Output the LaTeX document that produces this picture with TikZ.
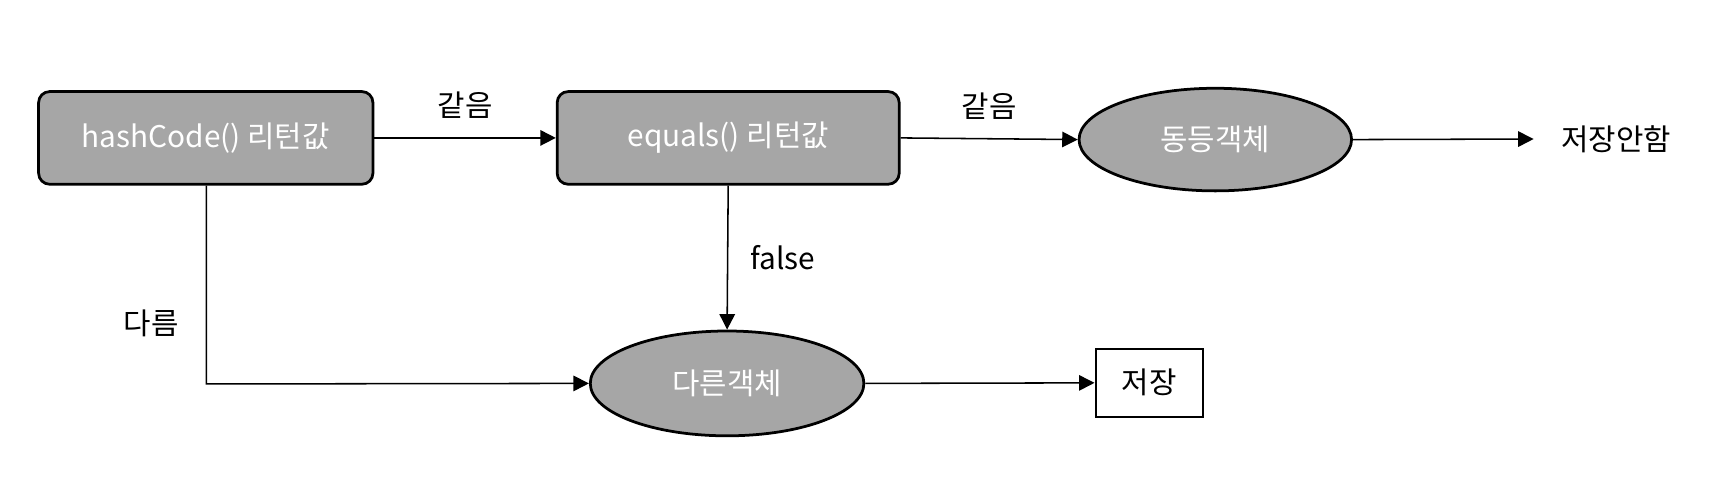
\documentclass[tikz,border=0pt]{standalone}
\usepackage{fontspec}
\setmainfont{Noto Sans CJK KR}
\usetikzlibrary{arrows.meta}
\tikzset{
  graybox/.style={draw=black, line width=2.5pt, fill=boxgray, rounded corners=10pt, text=white, font=\fontsize{27}{32}\selectfont, inner sep=0pt},
  grayoval/.style={ellipse, draw=black, line width=2.5pt, fill=boxgray, text=white, font=\fontsize{27}{32}\selectfont, inner sep=0pt},
  savebox/.style={draw=black, line width=2pt, fill=white, font=\fontsize{27}{32}\selectfont, inner sep=0pt},
  lbl/.style={font=\fontsize{27}{32}\selectfont, inner sep=0pt},
  conn/.style={line width=1.4pt, -{Triangle[length=14pt,width=14pt]}},
  plainconn/.style={line width=1.4pt}
}
\definecolor{boxgray}{HTML}{A6A6A6}
\usetikzlibrary{shapes.geometric}
\begin{document}
\begin{tikzpicture}[x=1pt,y=-1pt]
\useasboundingbox (0,0) rectangle (1568,444);
\node[graybox, minimum width=303pt, minimum height=84pt] (hc) at (186.5,125) {hashCode() 리턴값};
\node[graybox, minimum width=310pt, minimum height=84pt] (eq) at (660,125) {equals() 리턴값};
\node[grayoval, minimum width=247pt, minimum height=93pt] (same) at (1101.5,126.5) {동등객체};
\node[grayoval, minimum width=248pt, minimum height=95pt] (diff) at (659,347.5) {다른객체};
\node[savebox, minimum width=97pt, minimum height=62pt] (save) at (1041.5,347) {저장};
\node[lbl] (nosave) at (1465,126) {저장안함};
\coordinate (nosavein) at (1390,126);
\coordinate (corner) at (187,348);

\draw[conn] (hc.east) -- (eq.west) node[lbl, midway, above=17pt] (l1) {같음};
\draw[conn] (eq.east) -- (same.west) node[lbl, midway, above=17pt] (l2) {같음};
\draw[conn] (same.east) -- (nosavein);
\draw[conn] (eq.south) -- (diff.north) node[lbl, midway, right=20pt] (l3) {false};
\draw[conn] (hc.south -| corner) -- (corner) -- (diff.west);
\node[lbl] (l4) at (137,293) {다름};
\draw[conn] (diff.east) -- (save.west);
\end{tikzpicture}
\end{document}
